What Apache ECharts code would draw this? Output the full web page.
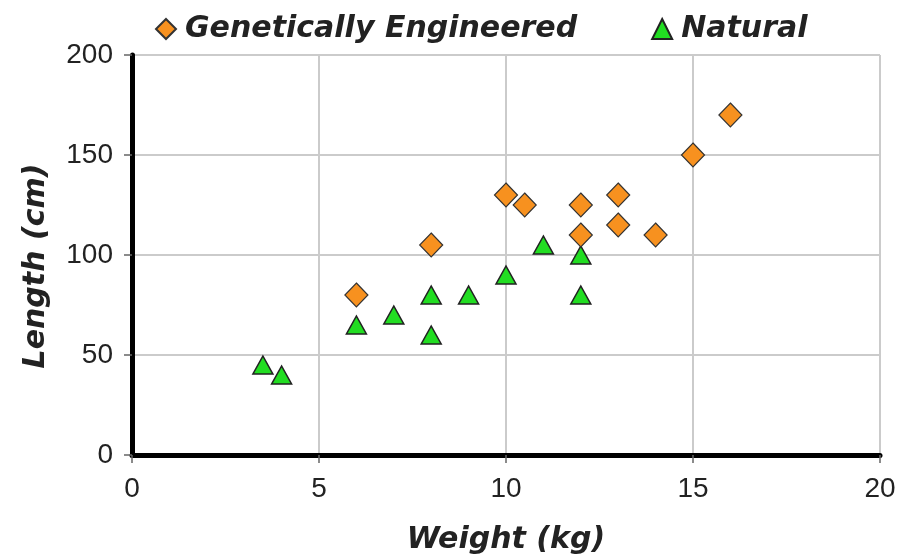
<!DOCTYPE html>
<html><head><meta charset="utf-8">
<script src="https://cdn.jsdelivr.net/npm/echarts@6/dist/echarts.min.js"></script>
<style>html,body{margin:0;padding:0;background:#fff}#c{width:902px;height:554px}</style>
</head><body><div id="c"></div>
<script>
const xTicks = [0, 5, 10, 15, 20];
const yTicks = [0, 50, 100, 150, 200];
const seriesNames = ['Genetically Engineered', 'Natural'];
const geWeight = [6, 8, 10, 10.5, 12, 12, 13, 13, 14, 15, 16];
const geLength = [80, 105, 130, 125, 125, 110, 130, 115, 110, 150, 170];
const natWeight = [3.5, 4, 6, 7, 8, 8, 9, 10, 11, 12, 12];
const natLength = [45, 40, 65, 70, 80, 60, 80, 90, 105, 100, 80];

const pairs = (xs, ys) => xs.map((x, i) => [x, ys[i]]);
const chart = echarts.init(document.getElementById('c'));
const labelFont = {color: '#222', fontFamily: 'Liberation Sans', fontSize: 28};
const nameFont = {color: '#222', fontFamily: 'DejaVu Sans', fontWeight: 'bold', fontStyle: 'italic', fontSize: 30};
chart.setOption({
  animation: false,
  grid: {left: 132, right: 22, top: 55, bottom: 99, containLabel: false, outerBoundsMode: 'none'},
  legend: {
    top: 9, left: 150, itemGap: 74, itemWidth: 20, itemHeight: 20,
    textStyle: {color: '#222', fontFamily: 'DejaVu Sans', fontWeight: 'bold', fontStyle: 'italic', fontSize: 30, padding: [0, 0, 0, 4]},
    data: seriesNames
  },
  xAxis: {
    type: 'value', min: xTicks[0], max: xTicks[xTicks.length - 1], interval: 5,
    name: 'Weight (kg)', nameLocation: 'middle', nameGap: 70, nameTextStyle: nameFont,
    axisLine: {onZero: false, lineStyle: {color: '#000', width: 5}},
    axisTick: {show: true, length: 8, lineStyle: {color: '#666', width: 1.5}},
    axisLabel: Object.assign({margin: 20}, labelFont),
    splitLine: {lineStyle: {color: '#cbcbcb', width: 2}}
  },
  yAxis: {
    type: 'value', min: yTicks[0], max: yTicks[yTicks.length - 1], interval: 50,
    name: 'Length (cm)', nameLocation: 'middle', nameGap: 81,
    nameTextStyle: Object.assign({padding: [0, 22, 0, 0]}, nameFont),
    axisLine: {show: true, onZero: false, lineStyle: {color: '#000', width: 5}},
    axisTick: {show: true, length: 8, lineStyle: {color: '#666', width: 1.5}},
    axisLabel: Object.assign({margin: 19}, labelFont),
    splitLine: {lineStyle: {color: '#cbcbcb', width: 2}}
  },
  series: [
    {
      name: seriesNames[0], type: 'scatter', symbol: 'diamond', symbolSize: [23, 24],
      itemStyle: {color: '#f7911f', borderColor: '#333', borderWidth: 1.2, opacity: 1},
      data: pairs(geWeight, geLength), z: 3
    },
    {
      name: seriesNames[1], type: 'scatter', symbol: 'triangle', symbolSize: [20, 18],
      itemStyle: {color: '#22dd22', borderColor: '#222', borderWidth: 1.5, opacity: 1},
      data: pairs(natWeight, natLength), z: 2
    }
  ]
});
</script></body></html>
